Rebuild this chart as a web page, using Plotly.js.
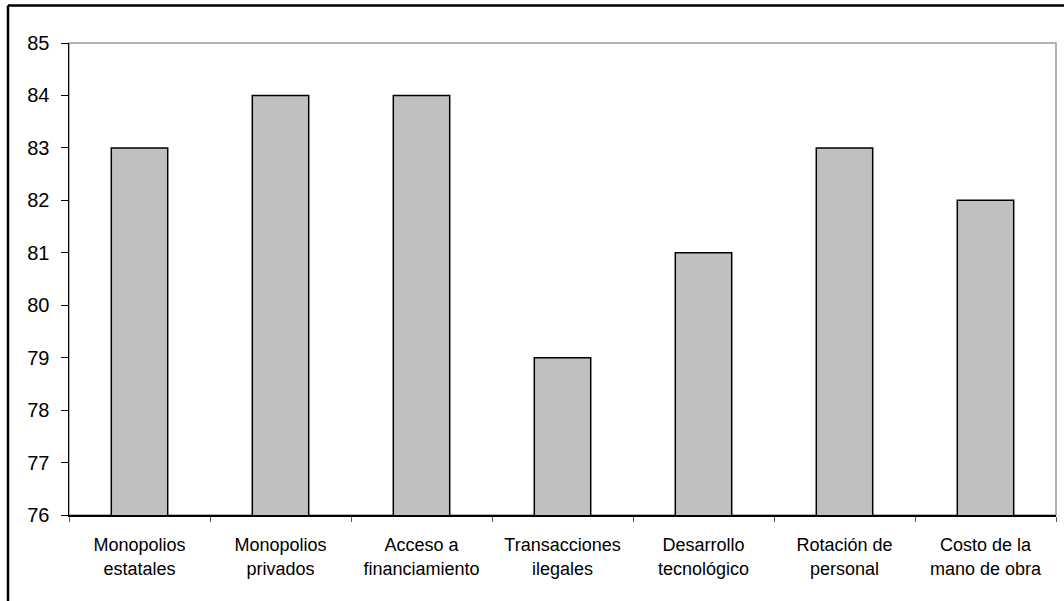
<!DOCTYPE html>
<html>
<head>
<meta charset="utf-8">
<script src="https://cdn.plot.ly/plotly-3.0.1.min.js"></script>
<style>
  html, body { margin: 0; padding: 0; background: #fff; }
  #chart { width: 1064px; height: 601px; }
</style>
</head>
<body>
<div id="chart"></div>
<script>
const categories = [
  "Monopolios<br>estatales",
  "Monopolios<br>privados",
  "Acceso a<br>financiamiento",
  "Transacciones<br>ilegales",
  "Desarrollo<br>tecnológico",
  "Rotación de<br>personal",
  "Costo de la<br>mano de obra"
];
const values = [83, 84, 84, 79, 81, 83, 82];
const yTicks = [76, 77, 78, 79, 80, 81, 82, 83, 84, 85];

const W = 1064, H = 601;
const L = 69, R = 8, T = 43, B = 86;
const pw = W - L - R, ph = H - T - B;
const px = x => (x - L) / pw;
const py = y => (H - B - y) / ph;

const trace = {
  type: "bar",
  x: categories,
  y: values,
  marker: { color: "#C0C0C0", line: { color: "#000000", width: 1.5 } },
  hoverinfo: "skip"
};

const layout = {
  width: W, height: H,
  margin: { l: L, r: R, t: T, b: B, pad: 0 },
  paper_bgcolor: "#ffffff",
  plot_bgcolor: "#ffffff",
  showlegend: false,
  bargap: 0.6,
  font: { family: "Liberation Sans, Arial, sans-serif", size: 18, color: "#000" },
  xaxis: {
    type: "category",
    showgrid: false,
    zeroline: false,
    showline: true,
    linecolor: "#000",
    linewidth: 1.5,
    ticks: "outside",
    tickson: "boundaries",
    ticklen: 5,
    tickcolor: "#555",
    tickwidth: 1,
    ticklabelstandoff: 13,
    tickfont: { size: 18 }
  },
  yaxis: {
    range: [76, 85],
    tickvals: yTicks,
    ticktext: yTicks.map(String),
    showgrid: false,
    zeroline: false,
    showline: true,
    linecolor: "#000",
    linewidth: 1.5,
    ticks: "outside",
    ticklen: 7,
    tickcolor: "#000",
    tickwidth: 1,
    ticklabelstandoff: 7,
    tickfont: { size: 20 }
  },
  shapes: [
    { type: "rect", xref: "paper", yref: "paper", x0: 0, x1: 1, y0: 0, y1: 1,
      line: { color: "#9a9a9a", width: 1.5 }, layer: "below" },
    { type: "line", xref: "paper", yref: "paper", x0: px(8), x1: px(1070), y0: py(5.5), y1: py(5.5),
      line: { color: "#000", width: 2.5 } },
    { type: "line", xref: "paper", yref: "paper", x0: px(8), x1: px(8), y0: py(5.5), y1: py(610),
      line: { color: "#000", width: 2.5 } }
  ]
};

Plotly.newPlot("chart", [trace], layout, { staticPlot: true, displayModeBar: false });
</script>
</body>
</html>
